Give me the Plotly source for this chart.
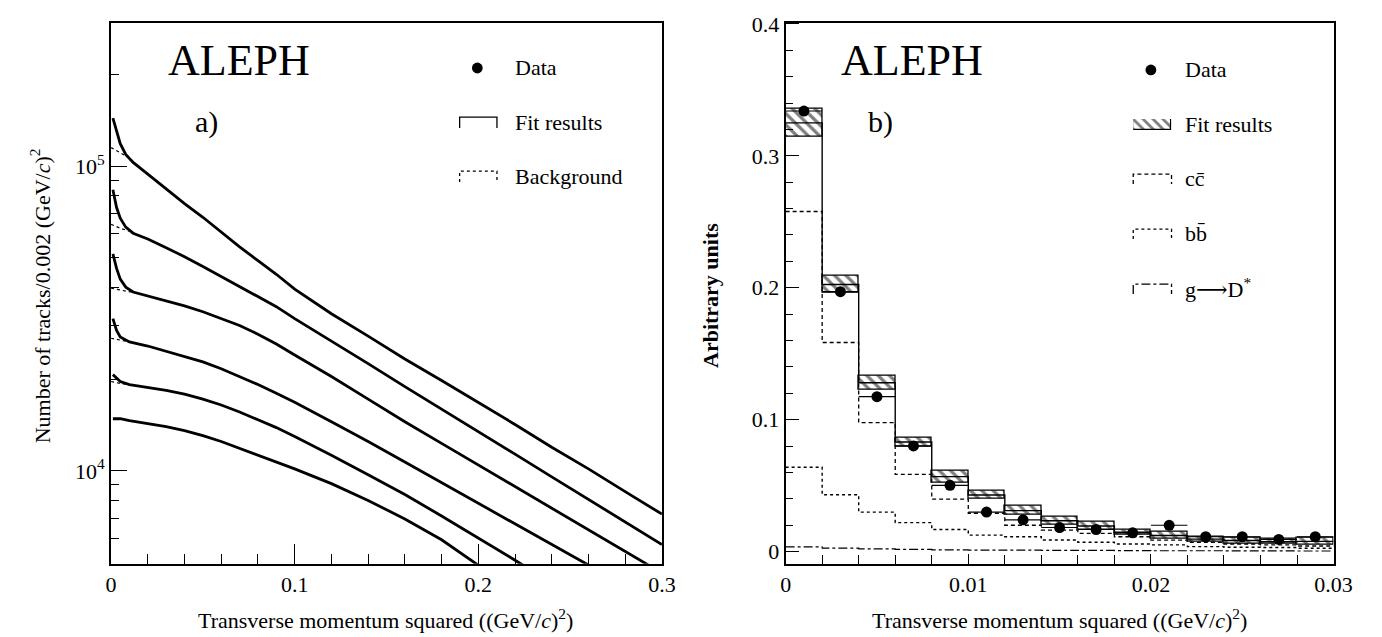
import plotly.graph_objects as go

# ---------------- panel a) : pT^2 spectra (six slices) ----------------
pt2_a = [0.001, 0.003, 0.005, 0.008, 0.012, 0.02, 0.03, 0.04, 0.05, 0.06, 0.07, 0.08,
         0.09, 0.10, 0.12, 0.14, 0.16, 0.18, 0.20, 0.22, 0.24, 0.26, 0.28, 0.30]
tracks_1 = [144000, 130600, 118600, 109300, 103000, 94200, 84300, 75400, 68000, 60800, 54400, 49000,
            44200, 39500, 32800, 27700, 23300, 19800, 16800, 14200, 11950, 10150, 8550, 7210]
tracks_2 = [83700, 73200, 67500, 63100, 60300, 57700, 54000, 50500, 46900, 43500, 40400, 37500,
            34600, 31600, 26700, 22500, 18900, 15970, 13460, 11350, 9560, 8060, 6800, 5730]
tracks_3 = [51600, 46200, 42600, 40100, 38650, 37500, 36150, 34800, 33300, 31600, 30000, 28100,
            26100, 24000, 20400, 17200, 14490, 12310, 10460, 8880, 7540, 6400, 5440, 4620]

pt2_b = [0.001, 0.003, 0.005, 0.01, 0.02, 0.03, 0.04, 0.05, 0.06, 0.07, 0.08, 0.09, 0.10,
         0.12, 0.14, 0.16, 0.18, 0.20, 0.22, 0.24, 0.26, 0.28]
tracks_4 = [31600, 28900, 27500, 26500, 25700, 24700, 23800, 22800, 21650, 20400, 19200, 17980, 16800,
            14490, 12490, 10690, 9150, 7820, 6700, 5730, 4900, 4200]
tracks_5 = [20700, 20100, 19650, 19200, 18800, 18390, 17850, 17200, 16450, 15610, 14710, 13870, 12970,
            11260, 9710, 8370, 7110, 6030, 5090, 4290]

pt2_c = [0.001, 0.005, 0.01, 0.02, 0.03, 0.04, 0.05, 0.06, 0.07, 0.08, 0.09, 0.10,
         0.12, 0.14, 0.16, 0.18, 0.20, 0.22]
tracks_6 = [14830, 14830, 14610, 14280, 13970, 13560, 13060, 12490, 11860, 11260, 10690, 10150,
            9080, 8000, 6950, 5940, 4900, 4290]

# background component at small pT^2
pt2_bg = [0.0, 0.005, 0.01, 0.015]
background_1 = [115200, 111000, 106500, 99700]
background_2 = [64500, 62600, 61200, 59300]
background_3 = [39800, 39200, 38650, 38200]
background_4 = [27250, 26850, 26500]
background_5 = [19650, 19360, 19200]

# log-axis tick marks
major_ticks_a = [1e4, 1e5]
minor_ticks_a = [6000, 7000, 8000, 9000, 20000, 30000, 40000, 50000, 60000, 70000,
                 80000, 90000, 200000]

# ---------------- panel b) : D* pT^2 distribution ----------------
bin_edges = [0.000, 0.002, 0.004, 0.006, 0.008, 0.010, 0.012, 0.014, 0.016,
             0.018, 0.020, 0.022, 0.024, 0.026, 0.028, 0.030]
fit_center = [0.325, 0.2025, 0.128, 0.083, 0.0568, 0.0428, 0.031, 0.0233, 0.0193,
              0.0146, 0.0122, 0.0094, 0.0083, 0.0074, 0.0077]
fit_err = [0.0105, 0.0063, 0.005, 0.0034, 0.0046, 0.003, 0.0035, 0.0028, 0.003,
           0.0022, 0.0027, 0.0018, 0.0021, 0.0019, 0.0027]
data_b = [0.334, 0.197, 0.1174, 0.0801, 0.0502, 0.0299, 0.0240, 0.0182, 0.0167,
          0.0142, 0.0199, 0.0112, 0.0112, 0.0092, 0.0112]
cc_frac = [0.2578, 0.1585, 0.0978, 0.0585, 0.0398, 0.0290, 0.0199, 0.0162, 0.0137,
           0.0112, 0.0087, 0.0070, 0.0057, 0.0050, 0.0042]
bb_frac = [0.0639, 0.0430, 0.0299, 0.0219, 0.0167, 0.0124, 0.0112, 0.0087, 0.0070,
           0.0057, 0.0050, 0.0037, 0.0032, 0.0030, 0.0025]
gD_frac = [0.0035, 0.0025, 0.0020, 0.0016, 0.0013, 0.0011, 0.0010, 0.0009, 0.0008,
           0.0007, 0.0006, 0.0006, 0.0005, 0.0005, 0.0004]

W, H = 1382, 637
FONT = "Liberation Serif, Times New Roman, DejaVu Serif, serif"


def px(x):
    return x / W


def py(y):
    return 1 - y / H


centers = [(a + b) / 2 for a, b in zip(bin_edges[:-1], bin_edges[1:])]
half_w = [(b - a) / 2 for a, b in zip(bin_edges[:-1], bin_edges[1:])]


def step(vals):
    return list(bin_edges), list(vals) + [vals[-1]]


fig = go.Figure()

# panel a curves (data with fit overlaid)
for xs, ys in [(pt2_a, tracks_1), (pt2_a, tracks_2), (pt2_a, tracks_3),
               (pt2_b, tracks_4), (pt2_b, tracks_5), (pt2_c, tracks_6)]:
    fig.add_trace(go.Scatter(x=xs, y=ys, mode="lines", xaxis="x", yaxis="y",
                             line=dict(color="black", width=2.8), showlegend=False,
                             hoverinfo="skip"))
for xs, ys in [(pt2_bg, background_1), (pt2_bg, background_2), (pt2_bg, background_3),
               (pt2_bg[:3], background_4), (pt2_bg[:3], background_5)]:
    fig.add_trace(go.Scatter(x=xs, y=ys, mode="lines", xaxis="x", yaxis="y",
                             line=dict(color="black", width=1.2, dash="dot"),
                             showlegend=False, hoverinfo="skip"))

# panel b: fit band
fig.add_trace(go.Bar(
    x=centers, y=[2 * e for e in fit_err],
    base=[c - e for c, e in zip(fit_center, fit_err)],
    width=[2 * h for h in half_w], xaxis="x2", yaxis="y2",
    marker=dict(color="white", line=dict(color="black", width=1.3),
                pattern=dict(shape="\\", fgcolor="black", bgcolor="white",
                             size=8, solidity=0.4)),
    showlegend=False, hoverinfo="skip"))

# panel b: component histograms
for vals, dash, width in [(fit_center, "solid", 1.4), (cc_frac, "4px,3px", 1.3),
                          (bb_frac, "dot", 1.4), (gD_frac, "dashdot", 1.2)]:
    sx, sy = step(vals)
    fig.add_trace(go.Scatter(x=sx, y=sy, mode="lines", line_shape="hv",
                             xaxis="x2", yaxis="y2",
                             line=dict(color="black", width=width, dash=dash),
                             showlegend=False, hoverinfo="skip"))

# panel b: data points
fig.add_trace(go.Scatter(
    x=centers, y=data_b, mode="markers", xaxis="x2", yaxis="y2",
    marker=dict(color="black", size=11),
    error_x=dict(type="data", array=half_w, color="black", thickness=1.2, width=0),
    showlegend=False, hoverinfo="skip"))

# legend swatch for the hatched fit band
fig.add_trace(go.Bar(x=[0.5], y=[1], width=[1], xaxis="x3", yaxis="y3",
                     marker=dict(color="white", line=dict(color="black", width=1.3),
                                 pattern=dict(shape="\\", fgcolor="black", bgcolor="white",
                                              size=7, solidity=0.4)),
                     showlegend=False, hoverinfo="skip"))

tickfont = dict(family=FONT, size=22, color="black")
axis_common = dict(showline=True, linecolor="black", linewidth=2, mirror=True,
                   showgrid=False, zeroline=False, ticks="inside", tickcolor="black",
                   tickwidth=1.3, tickfont=tickfont)

fig.update_layout(
    width=W, height=H, margin=dict(l=0, r=0, t=0, b=0),
    paper_bgcolor="white", plot_bgcolor="white", showlegend=False,
    font=dict(family=FONT, size=20, color="black"),
    xaxis=dict(domain=[px(107), px(668)], range=[0, 0.3], anchor="y",
               tickvals=[0, 0.1, 0.2, 0.3], ticktext=["0", "0.1", "0.2", "0.3"],
               ticklen=20, minor=dict(ticks="inside", dtick=0.02, tick0=0, ticklen=10,
                                      tickcolor="black", tickwidth=1.2),
               **axis_common),
    yaxis=dict(domain=[py(562.5), py(12)], type="log", range=[3.695, 5.471], anchor="x",
               tickvals=major_ticks_a, ticktext=["10<sup>4</sup>", "10<sup>5</sup>"],
               ticklen=16, minor=dict(ticks="inside", tickvals=minor_ticks_a, ticklen=8,
                                      tickcolor="black", tickwidth=1.2),
               **axis_common),
    xaxis2=dict(domain=[px(794), px(1352)], range=[0, 0.03], anchor="y2",
                tickvals=[0, 0.01, 0.02, 0.03], ticktext=["0", "0.01", "0.02", "0.03"],
                ticklen=10, minor=dict(ticks="inside", dtick=0.002, tick0=0, ticklen=9,
                                       tickcolor="black", tickwidth=1.2),
                **axis_common),
    yaxis2=dict(domain=[py(562.5), py(12)], range=[-0.0093, 0.4009], anchor="x2",
                tickvals=[0, 0.1, 0.2, 0.3, 0.4], ticktext=["0", "0.1", "0.2", "0.3", "0.4"],
                ticklen=13, minor=dict(ticks="inside", dtick=0.02, tick0=0, ticklen=7,
                                       tickcolor="black", tickwidth=1.2),
                **axis_common),
    xaxis3=dict(domain=[px(1148), px(1187)], range=[0, 1], visible=False, anchor="y3"),
    yaxis3=dict(domain=[py(121), py(110)], range=[0, 1], visible=False, anchor="x3"),
    bargap=0,
)

ann = []


def text(x, y, s, size=22, xanchor="left", angle=0):
    ann.append(dict(x=px(x), y=py(y), xref="paper", yref="paper", text=s, showarrow=False,
                    xanchor=xanchor, yanchor="middle", textangle=angle,
                    font=dict(family=FONT, size=size, color="black")))


# panel titles
text(163, 50, "ALEPH", size=44)
text(848, 50, "ALEPH", size=44)
text(190, 113, "a)", size=30)
text(876, 113, "b)", size=30)

# axis titles
xtitle = "Transverse momentum squared ((GeV/<i>c</i>)<sup>2</sup>)"
text(387, 619, xtitle, size=22, xanchor="center")
text(1073, 619, xtitle, size=22, xanchor="center")
text(35, 290, "Number of tracks/0.002 (GeV/<i>c</i>)<sup>2</sup>", size=22,
     xanchor="center", angle=-90)
text(718, 290, "<b>Arbitrary units</b>", size=22, xanchor="center", angle=-90)

# legend texts
text(516, 58, "Data", size=22)
text(516, 113, "Fit results", size=22)
text(516, 168, "Background", size=22)
text(1199, 60, "Data", size=22)
text(1199, 115, "Fit results", size=22)
text(1199, 170, "cc\u0304", size=22)
text(1199, 226, "bb\u0304", size=22)
text(1199, 282, "g\u27f6D<sup>*</sup>", size=22)

fig.update_layout(annotations=ann)

shapes = []


def dot(cx, cy, r=5.5):
    shapes.append(dict(type="circle", xref="paper", yref="paper",
                       x0=px(cx - r), x1=px(cx + r), y0=py(cy + r), y1=py(cy - r),
                       fillcolor="black", line=dict(color="black", width=0)))


def cap(x0, x1, ytop, ybot, dash="solid"):
    path = "M {} {} L {} {} L {} {} L {} {}".format(
        px(x0), py(ybot), px(x0), py(ytop), px(x1), py(ytop), px(x1), py(ybot))
    shapes.append(dict(type="path", xref="paper", yref="paper", path=path,
                       line=dict(color="black", width=1.3, dash=dash)))


dot(480, 58)
cap(462, 500, 108, 119)
cap(462, 500, 163, 174, "dot")
dot(1166, 60)
cap(1148, 1187, 166, 176, "4px,3px")
cap(1148, 1187, 222, 232, "dot")
cap(1148, 1187, 278, 288, "dashdot")

fig.update_layout(shapes=shapes)

fig.write_html("out.html")
